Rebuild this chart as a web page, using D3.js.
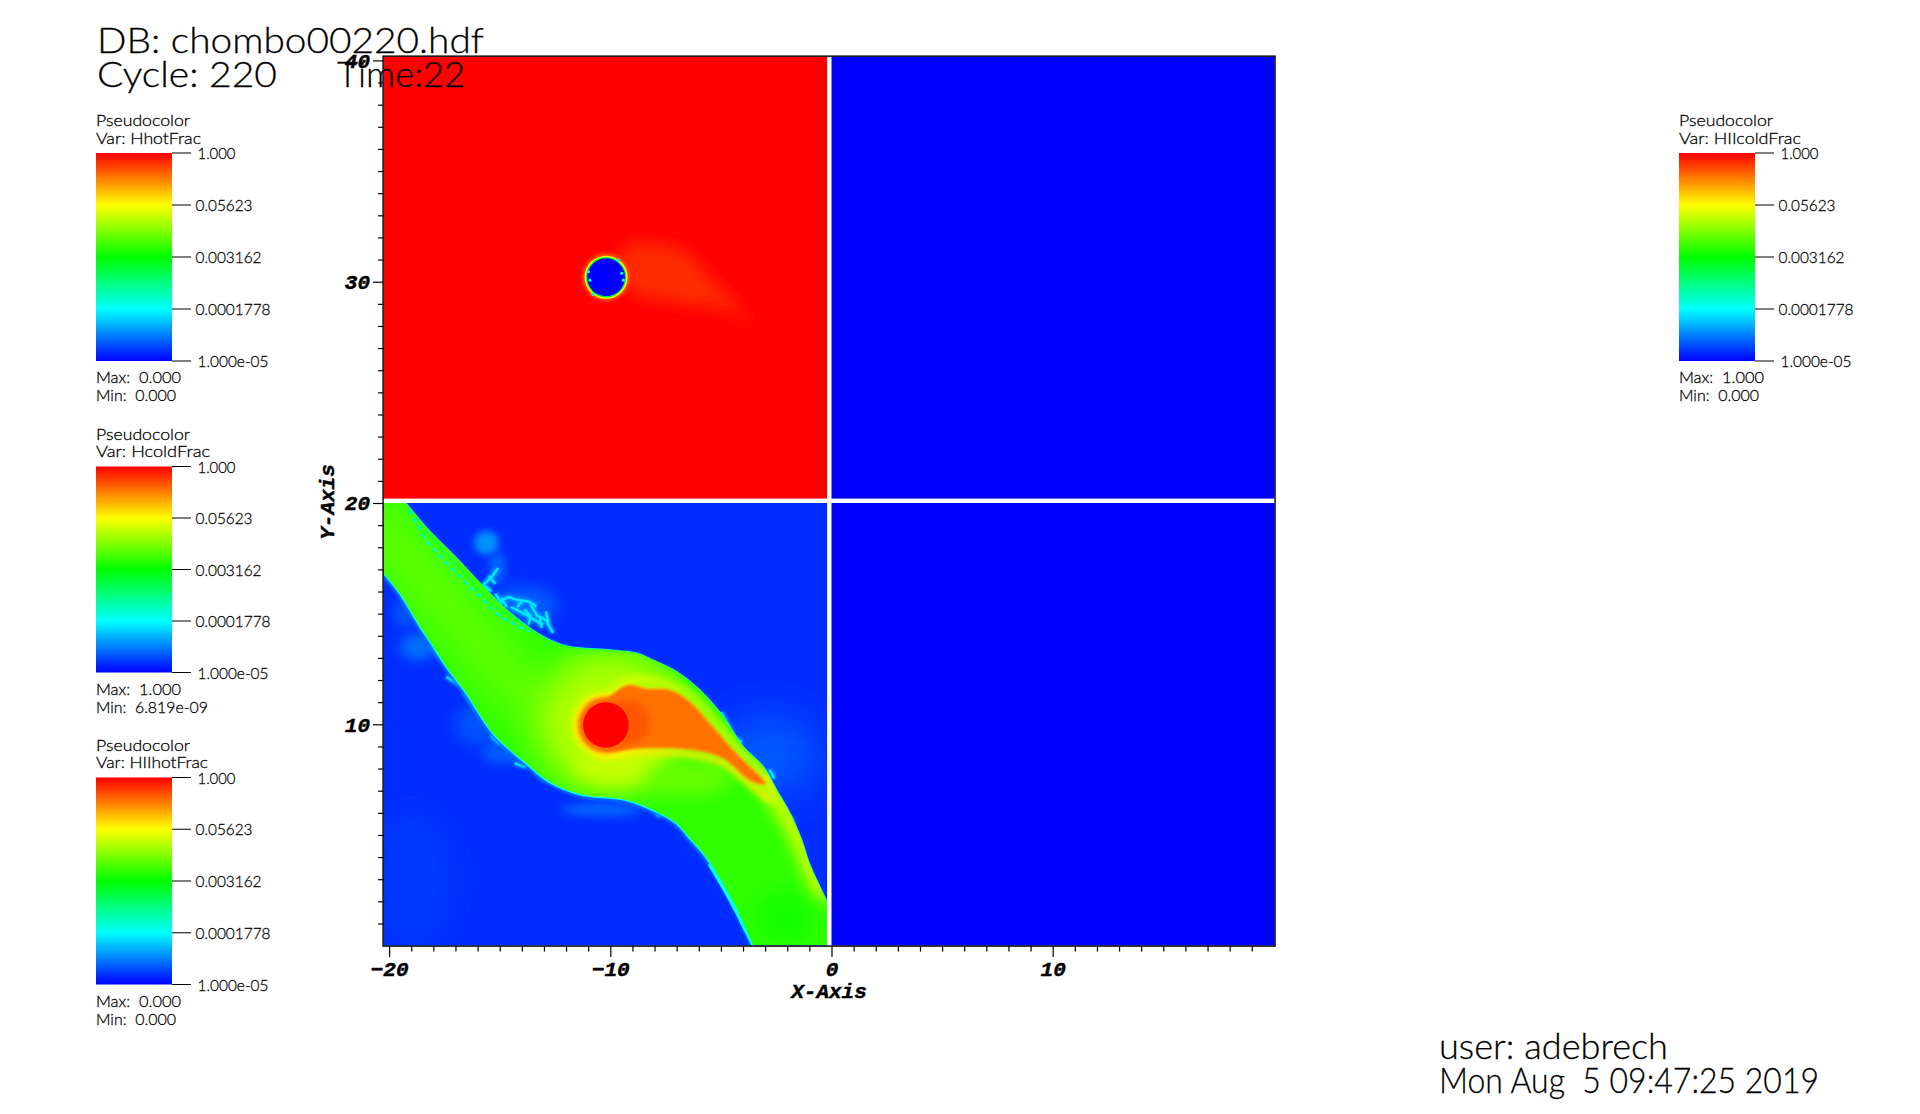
<!DOCTYPE html>
<html><head><meta charset="utf-8">
<script src="https://cdn.jsdelivr.net/npm/d3@7"></script>
<style>html,body{margin:0;background:#fff}svg{display:block}
text{font-family:Lato,"Open Sans",sans-serif;font-weight:300;fill:#000;white-space:pre;stroke:#000;stroke-width:.28}
.ax text,.axl{font-family:"Liberation Mono",monospace;font-weight:700;font-style:italic;font-size:21px;fill:#000;stroke:#000;stroke-width:.45}
</style></head><body><svg id="c" width="1920" height="1114"></svg>
<script>
// ---- data (x/y in data units, values as log10 of the fraction) ----
const legendTicks=["1.000","0.05623","0.003162","0.0001778","1.000e-05"];
const legendVars=["HhotFrac","HcoldFrac","HIIhotFrac","HIIcoldFrac"];
const legendMax=["0.000","1.000","0.000","1.000"];
const legendMin=["0.000","6.819e-09","0.000","0.000"];
const colorLogs=[-5,-3.75,-2.5,-1.25,0];
const colorNames=["#0000ff","#00ffff","#00ff00","#ffff00","#ff0000"];
const plumeUpper=[[-19.25,20],[-18.16,18.72],[-17.03,17.59],[-15.75,16.24],[-14.7,15.18],[-13.19,14.05],[-12.2,13.6],[-11.38,13.45],[-10,13.36],[-8.8,13.21],[-8.06,12.9],[-7,12.38],[-5.95,11.55],[-4.89,10.34],[-3.99,8.99],[-3.08,8.08],[-2.48,7.03],[-1.88,5.99],[-1.35,4.77],[-0.98,3.66],[-0.2,1.98]];
const plumeLower=[[-20.25,16.84],[-19.52,15.93],[-18.6,14.43],[-18,13.52],[-17.4,12.6],[-16.5,11.4],[-15.3,9.6],[-13.8,8.24],[-12.74,7.4],[-11.38,6.85],[-9.26,6.58],[-7.9,6.05],[-7,5.53],[-6.4,4.85],[-5.64,3.97],[-4.44,1.98],[-3.53,0]];
const wakeLower=[[-9.86,11.4],[-9.19,11.78],[-8.4,11.62],[-7.3,11.55],[-6.4,11.02],[-5.49,10.04],[-4.44,8.84],[-3.68,8.08],[-2.95,7.3],[-3.68,7.45],[-4.89,8.45],[-6.25,8.84],[-8.51,8.92],[-10.2,8.85],[-11,10]];
const wakeRimTop=[[-9.8,11.6],[-9.1,12],[-7.3,11.8],[-6.3,11.25],[-5.3,10.15],[-4.3,9],[-3.5,8.2],[-2.7,7.2]];
const wakeRimBottom=[[-10.4,8.6],[-8.5,8.72],[-6.25,8.62],[-4.9,8.25],[-3.7,7.3],[-2.8,6.6]];
const rightEdge=[[-2.9,7.4],[-2.2,6.2],[-1.7,5.4],[-1.2,4.3],[-.8,3.3],[-.4,2.4]];
const spineLeft=[[-20.5,19],[-18,16.2],[-15.5,13.2],[-13.5,11]];
const topRidge=[[-11.5,12.4],[-9.5,12.6],[-7.5,12.2]];
const wakeUpper=[[-9.41,31.56],[-6.71,31.42],[-5.36,30.07],[-3.56,28.12],[-4.73,28.72],[-7.16,29.03],[-9.1,29.61]];
const sphereSpecks=[[-10.99,30.45],[-10.92,30.07],[-9.48,30.38],[-9.41,30.07],[-10.78,29.43],[-9.65,30.98]];
// [x, y, rx, ry, log10 fraction, blur]
const backBlobs=[[-2.8,8.6,2.2,1.7,-4.55,40],[-15.6,18.2,.55,.55,-4.3,6],[-15.1,17.1,.35,.7,-4.5,8],[-13.9,15.4,1.5,.8,-4.55,14],[-18.7,13.5,.8,.6,-4.45,12],[-16,10,1,.9,-4.6,14],[-14.8,8.7,1,.5,-4.55,10],[-10.4,6.15,1.8,.3,-4.5,8],[-19.3,15,.5,.6,-4.6,8],[-19,3,2,3,-4.72,24]];
const plumeBlobs=[[-10.2,10,3.1,3,-1.62,34],[-9.5,8.1,2.2,.8,-1.55,16],[-6.5,7.6,2,.8,-2,16],[-2.1,1.2,1.4,1.2,-2.38,18]];
const strands=[
 [[-19.1,19.7],[-18.32,18.34],[-17.26,17.14],[-15.9,15.78],[-15,14.9],[-13.65,14.2]],
 [[-18.75,19.3],[-17.7,18],[-16.4,16.6],[-15.1,15.25],[-13.9,14.5]]];
const flecks=[
 [[-15.08,17.06],[-15.4,16.6],[-15.75,16.31]],[[-15.75,16.31],[-15.38,16.01]],[[-15.5,16.7],[-15.2,16.35]],[[-15,15.56],[-14.6,15.75],[-14.25,15.63],[-13.7,15.55],[-13.34,15.33]],
 [[-14.5,15.3],[-14.1,15.1],[-13.8,14.95],[-13.4,14.7],[-13.04,14.5]],[[-13.6,15.4],[-13.3,14.9],[-12.9,14.7],[-12.59,14.13]],[[-14.9,15.7],[-14.7,15.3]],
 [[-14.2,15.3],[-14,15.55]],[[-13.9,15.2],[-13.6,14.9],[-13.7,14.5]],[[-13.2,14.9],[-13.1,14.35]],[[-12.9,15.1],[-12.8,14.5]],[[-15.2,15.9],[-14.9,15.45]],
 [[-17.41,12.15],[-17,11.9],[-16.66,11.7]],[[-18.1,13.6],[-17.8,13.15]],[[-18.4,14.2],[-18.05,14]],[[-16.6,11.47],[-16.06,10.65]],[[-15.4,9.5],[-15,9.1]],[[-14.9,9.15],[-14.5,8.85]],
 [[-14.32,8.24],[-13.8,8.06]],[[-13.4,7.9],[-12.9,7.45]],[[-8.25,6.42],[-7.95,6.1]],[[-7.95,5.95],[-7.7,5.85]],
 [[-5,10.55],[-4.75,10.1],[-4.5,9.6]],[[-4.4,9.4],[-4.05,9.2]],[[-2.8,7.95],[-2.6,7.55]],[[-1.95,5.9],[-1.75,5.6]]];
const rimLowRight=[[-5.5,3.7],[-4.9,2.7],[-4.3,1.6],[-3.9,.8],[-3.5,0]];
const majorX=[-20,-10,0,10], majorY=[10,20,30,40];
const minorX=d3.range(-19,20).filter(v=>v%10), minorY=d3.range(1,40).filter(v=>v%10);
const sphereLower={x:-10.2,y:9.97,r:1.03}, sphereUpper={x:-10.19,y:30.2,r:.9};

// ---- layout ----
const svg=d3.select("#c");
const x=d3.scaleLinear().domain([0,20]).range([831.5,1273.9]);
const y=d3.scaleLinear().domain([0,40]).range([945.6,60.4]);
const color=d3.scaleLinear().domain(colorLogs).range(colorNames).clamp(true);
const defs=svg.append("defs");
[1,2,3,4,5,6,8,10,12,14,16,18,20,24,30,34,40].forEach(b=>defs.append("filter").attr("id","b"+b).attr("x","-150%").attr("y","-150%").attr("width","400%").attr("height","400%").append("feGaussianBlur").attr("stdDeviation",b*.5));
const grad=defs.append("linearGradient").attr("id","lg").attr("x1",0).attr("x2",0).attr("y1",1).attr("y2",0);
colorLogs.forEach((l,i)=>grad.append("stop").attr("offset",i/4).attr("stop-color",color(l)));
const LL=d3.line().x(d=>x(d[0])).y(d=>y(d[1]));
const LC=d3.line().x(d=>x(d[0])).y(d=>y(d[1])).curve(d3.curveCatmullRomClosed.alpha(.5));
const LO=d3.line().x(d=>x(d[0])).y(d=>y(d[1])).curve(d3.curveCatmullRom.alpha(.5));
const X0=-20.25,X1=-.2,Y1=20.2,Y2=40.17,XR=20.03;
defs.append("clipPath").attr("id","pl").append("rect").attr("x",x(X0)).attr("y",y(20)).attr("width",x(X1)-x(X0)).attr("height",y(0)-y(20));
defs.append("clipPath").attr("id","pc").append("path").attr("d",LO(plumeUpper)+"L"+x(-.2)+","+y(0)+LO(plumeLower.slice().reverse()).replace("M","L")+"L"+x(X0)+","+y(20)+"Z");
const panels=[{a:X0,b:X1,c:Y1,d:Y2,l:0},{a:0,b:XR,c:Y1,d:Y2,l:-5},{a:X0,b:X1,c:0,d:20,l:-4.78},{a:0,b:XR,c:0,d:20,l:-5}];
svg.selectAll("rect.p").data(panels).join("rect").attr("class","p")
 .attr("x",d=>x(d.a)).attr("y",d=>y(d.d)).attr("width",d=>x(d.b)-x(d.a)).attr("height",d=>y(d.c)-y(d.d)).attr("fill",d=>color(d.l));
// upper-left panel
const sx=x(sphereUpper.x), sy=y(sphereUpper.y), sr=x(sphereUpper.r)-x(0);
svg.append("path").attr("d",LC(wakeUpper)).attr("fill",color(-.2)).attr("filter","url(#b16)");
svg.append("circle").attr("cx",sx).attr("cy",sy).attr("r",sr+3).attr("fill",color(-.6)).attr("filter","url(#b4)");
svg.append("circle").attr("cx",sx).attr("cy",sy).attr("r",sr+1.6).attr("fill",color(-1.25)).attr("filter","url(#b1)");
svg.append("circle").attr("cx",sx).attr("cy",sy).attr("r",sr+.3).attr("fill",color(-2.7));
svg.append("circle").attr("cx",sx).attr("cy",sy).attr("r",sr-1).attr("fill",color(-5));
svg.selectAll("circle.sp").data(sphereSpecks).join("circle").attr("class","sp").attr("cx",d=>x(d[0])).attr("cy",d=>y(d[1])).attr("r",1.6).attr("fill",color(-3.6));
// lower-left panel
const gl=svg.append("g").attr("clip-path","url(#pl)");
gl.selectAll("ellipse.bk").data(backBlobs).join("ellipse").attr("class","bk").attr("cx",d=>x(d[0])).attr("cy",d=>y(d[1])).attr("rx",d=>x(d[2])-x(0)).attr("ry",d=>y(0)-y(d[3])).attr("fill",d=>color(d[4])).attr("filter",d=>"url(#b"+d[5]+")");
gl.selectAll("path.fk").data(flecks).join("path").attr("class","fk").attr("d",d=>LL(d)).attr("fill","none").attr("stroke",color(-4.2)).attr("stroke-width",5).attr("filter","url(#b3)");
gl.selectAll("path.fl").data(flecks).join("path").attr("class","fl").attr("d",d=>LL(d)).attr("fill","none").attr("stroke",color(-3.85)).attr("stroke-width",2.2).attr("stroke-linejoin","bevel").attr("filter","url(#b1)");
gl.append("path").attr("d",LO(plumeLower)).attr("fill","none").attr("stroke",color(-4.45)).attr("stroke-width",7).attr("filter","url(#b3)");
gl.append("path").attr("d",LO(plumeLower)).attr("fill","none").attr("stroke",color(-3.7)).attr("stroke-width",2.4);
gl.append("path").attr("d",LO(plumeUpper)).attr("fill","none").attr("stroke",color(-3.5)).attr("stroke-width",1.5);
gl.append("path").attr("d",LO(rimLowRight)).attr("fill","none").attr("stroke",color(-3.7)).attr("stroke-width",5);
const gp=gl.append("g").attr("clip-path","url(#pc)");
gp.append("rect").attr("x",x(X0)).attr("y",y(20)).attr("width",x(X1)-x(X0)).attr("height",y(0)-y(20)).attr("fill",color(-2.27));
const soft=(pts,w,l,b)=>gp.append("path").attr("d",LO(pts)).attr("fill","none").attr("stroke",color(l)).attr("stroke-width",w).attr("stroke-linecap","round").attr("filter","url(#b"+b+")");
soft(spineLeft,46,-2,40);
soft(topRidge,26,-1.98,24);
soft(rightEdge,18,-1.42,16);
gp.selectAll("ellipse.pb").data(plumeBlobs).join("ellipse").attr("class","pb").attr("cx",d=>x(d[0])).attr("cy",d=>y(d[1])).attr("rx",d=>x(d[2])-x(0)).attr("ry",d=>y(0)-y(d[3])).attr("fill",d=>color(d[4])).attr("filter",d=>"url(#b"+d[5]+")");
strands.forEach((s,i)=>gp.append("path").attr("d",LO(s)).attr("fill","none").attr("stroke",i?color(-3):color(-3.4)).attr("stroke-width",i?1.6:2.6).attr("stroke-dasharray",i?"5 2":"6 3"));
soft(wakeRimTop,7,-1.4,8);
soft(wakeRimBottom,6,-1.15,6);
gl.append("circle").attr("cx",x(sphereLower.x)).attr("cy",y(sphereLower.y)).attr("r",33).attr("fill",color(-1.2)).attr("filter","url(#b6)");
gl.append("path").attr("d",LC(wakeLower)).attr("fill",color(-1.25)).attr("filter","url(#b5)");
gl.append("path").attr("d",LC(wakeLower)).attr("fill",color(-.56)).attr("filter","url(#b3)");
gl.append("circle").attr("cx",x(sphereLower.x)).attr("cy",y(sphereLower.y)).attr("r",28).attr("fill",color(-.52)).attr("filter","url(#b4)");
gl.append("circle").attr("cx",x(-9.2)).attr("cy",y(10.1)).attr("r",22).attr("fill",color(-.42)).attr("filter","url(#b6)");
gl.append("circle").attr("cx",x(sphereLower.x)).attr("cy",y(sphereLower.y)).attr("r",x(sphereLower.r)-x(0)).attr("fill",color(0)).attr("filter","url(#b1)");
// frame + axes
svg.append("rect").attr("x",x(X0)-.5).attr("y",y(Y2)-.5).attr("width",x(XR)-x(X0)+1).attr("height",y(0)-y(Y2)+1).attr("fill","none").attr("stroke","#000").attr("stroke-width",1.4);
const at=(s,o)=>s.attr("transform",o).attr("class","ax");
const fmt=d3.format("d");
svg.append("g").call(at,`translate(0,${y(0)+.5})`).call(d3.axisBottom(x).tickValues(majorX).tickSize(11).tickPadding(4).tickFormat(fmt));
svg.append("g").call(at,`translate(0,${y(0)+.5})`).call(d3.axisBottom(x).tickValues(minorX).tickSize(5.5).tickFormat(""));
svg.append("g").call(at,`translate(${x(X0)-.5},0)`).call(d3.axisLeft(y).tickValues(majorY).tickSize(10).tickPadding(3).tickFormat(fmt));
svg.append("g").call(at,`translate(${x(X0)-.5},0)`).call(d3.axisLeft(y).tickValues(minorY).tickSize(5).tickFormat(""));
svg.selectAll(".ax .domain").remove();
svg.selectAll(".ax line").attr("stroke","#000").attr("stroke-width",1.2);
svg.append("text").attr("class","axl").attr("x",829).attr("y",998).attr("text-anchor","middle").text("X-Axis");
svg.append("text").attr("class","axl").attr("transform","translate(334,502) rotate(-90)").attr("text-anchor","middle").text("Y-Axis");
// legends
const lx=[96,96,96,1679], ly=[153,466.5,777.5,153], lh=[208,206,207,208];
const varW=[105,114,112,122], tickW=[38,57,66,75,71];
const T=(g,tx,ty,w,t)=>g.append("text").attr("x",tx).attr("y",ty).attr("font-size",16.5).attr("textLength",w).attr("lengthAdjust","spacingAndGlyphs").text(t);
legendVars.forEach((v,i)=>{
 const g=svg.append("g").attr("transform",`translate(${lx[i]},0)`);
 const ys=d3.scaleLinear().domain([-5,0]).range([ly[i]+lh[i],ly[i]]);
 T(g,0,ly[i]-27,94,"Pseudocolor");
 T(g,0,ly[i]-9.5,varW[i],"Var: "+v);
 g.append("rect").attr("y",ly[i]).attr("width",76).attr("height",lh[i]).attr("fill","url(#lg)");
 legendTicks.forEach((t,k)=>{
  const yy=ys(colorLogs[4-k]);
  g.append("line").attr("x1",76).attr("x2",95).attr("y1",yy).attr("y2",yy).attr("stroke","#000").attr("stroke-width",1);
  T(g,t.startsWith("1")?101.5:99.5,yy+6,tickW[k],t);
 });
 T(g,0,ly[i]+lh[i]+22,85,"Max:  "+legendMax[i]);
 T(g,0,ly[i]+lh[i]+40,legendMin[i].length>5?112:80,"Min:  "+legendMin[i]);
});
// big texts
const big=(tx,by,w,t)=>svg.append("text").attr("x",tx).attr("y",by).attr("font-size",36).attr("textLength",w).attr("lengthAdjust","spacingAndGlyphs").text(t);
big(97,53,387,"DB: chombo00220.hdf");
big(97,87,180,"Cycle: 220");
big(337,87,128,"Time:22");
big(1439,1058.5,229,"user: adebrech");
big(1439,1092.5,380,"Mon Aug  5 09:47:25 2019");
</script></body></html>
